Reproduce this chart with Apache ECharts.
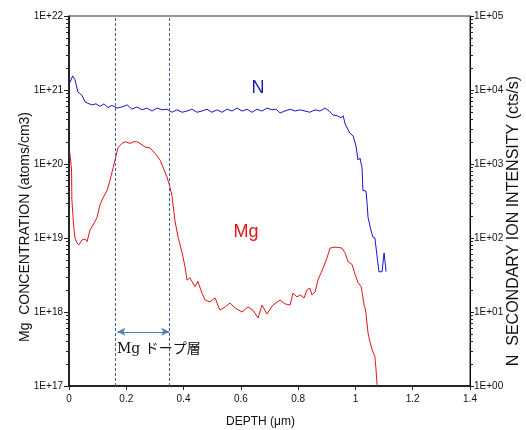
<!DOCTYPE html>
<html lang="ja">
<head>
    <meta charset="UTF-8">
    <title>SIMS depth profile</title>
    <script src="https://cdn.jsdelivr.net/npm/echarts@6/dist/echarts.min.js"></script>
    <style>
        html, body { margin: 0; padding: 0; background: #fff; }
        #chart { width: 526px; height: 430px; }
    </style>
</head>
<body>
<div id="chart"></div>
<script>
    // depth (um), Mg concentration (atoms/cm3)
    var mgProfile = [
        [0.003, 1.4e20], [0.009, 8.3e19], [0.010, 3.3e19], [0.016, 1.5e19], [0.021, 1.0e19],
        [0.028, 8.5e18], [0.035, 8.1e18], [0.045, 9.4e18], [0.056, 9.7e18], [0.063, 8.9e18],
        [0.073, 1.28e19], [0.084, 1.5e19], [0.098, 1.9e19], [0.108, 2.8e19], [0.119, 3.5e19],
        [0.133, 4.4e19], [0.143, 6.0e19], [0.154, 8.9e19], [0.171, 1.66e20], [0.185, 1.9e20],
        [0.196, 2.0e20], [0.213, 1.9e20], [0.227, 2.0e20], [0.237, 2.0e20], [0.248, 1.9e20],
        [0.265, 1.7e20], [0.283, 1.65e20], [0.300, 1.4e20], [0.318, 1.13e20], [0.328, 9.1e19],
        [0.342, 6.7e19], [0.353, 4.8e19], [0.360, 3.6e19], [0.370, 1.7e19], [0.381, 1.02e19],
        [0.395, 6.3e18], [0.405, 4.1e18], [0.412, 2.7e18], [0.422, 2.9e18], [0.429, 2.6e18],
        [0.440, 2.2e18], [0.450, 2.6e18], [0.464, 1.8e18], [0.475, 1.45e18], [0.492, 1.37e18],
        [0.510, 1.55e18], [0.527, 1.06e18], [0.545, 1.17e18], [0.562, 1.32e18], [0.580, 1.13e18],
        [0.604, 1.0e18], [0.625, 1.17e18], [0.642, 1.06e18], [0.660, 8.3e17], [0.674, 1.24e18],
        [0.691, 9.4e17], [0.712, 1.24e18], [0.737, 1.45e18], [0.754, 1.29e18], [0.772, 1.24e18],
        [0.782, 1.8e18], [0.796, 1.6e18], [0.807, 1.7e18], [0.821, 1.55e18], [0.831, 2.0e18],
        [0.841, 2.1e18], [0.848, 1.7e18], [0.859, 1.86e18], [0.869, 2.7e18], [0.887, 3.9e18],
        [0.901, 5.4e18], [0.911, 7.3e18], [0.925, 7.5e18], [0.936, 7.5e18], [0.953, 7.3e18],
        [0.964, 6.3e18], [0.974, 4.8e18], [0.988, 4.4e18], [0.999, 3.2e18], [1.009, 2.5e18],
        [1.020, 2.2e18], [1.025, 1.7e18], [1.030, 1.24e18], [1.034, 1.13e18], [1.037, 9.4e17],
        [1.044, 5.2e17], [1.051, 3.9e17], [1.058, 3.1e17], [1.068, 2.5e17], [1.072, 1.65e17],
        [1.075, 1.1e17], [1.077, 1.0e17]
    ];

    // depth (um), N secondary ion intensity (cts/s)
    var nProfile = [
        [0.002, 1.24e4], [0.013, 1.55e4], [0.021, 1.38e4], [0.031, 9.4e3], [0.045, 8.5e3],
        [0.056, 6.9e3], [0.066, 6.6e3], [0.080, 6.3e3], [0.094, 6.5e3], [0.108, 6.0e3],
        [0.122, 6.5e3], [0.136, 5.8e3], [0.150, 6.2e3], [0.168, 5.7e3], [0.185, 5.9e3],
        [0.203, 6.3e3], [0.220, 5.5e3], [0.237, 5.9e3], [0.255, 5.4e3], [0.272, 5.7e3],
        [0.290, 5.2e3], [0.307, 5.7e3], [0.325, 5.4e3], [0.342, 5.5e3], [0.360, 5.0e3],
        [0.377, 5.4e3], [0.395, 5.0e3], [0.412, 5.2e3], [0.429, 5.5e3], [0.447, 5.0e3],
        [0.464, 5.2e3], [0.482, 5.5e3], [0.499, 5.0e3], [0.517, 5.4e3], [0.534, 5.0e3],
        [0.552, 5.5e3], [0.569, 5.2e3], [0.587, 5.7e3], [0.604, 5.2e3], [0.622, 5.5e3],
        [0.639, 5.0e3], [0.656, 5.5e3], [0.674, 5.2e3], [0.691, 5.7e3], [0.709, 5.4e3],
        [0.723, 5.5e3], [0.737, 4.9e3], [0.754, 5.2e3], [0.772, 5.5e3], [0.789, 5.2e3],
        [0.807, 5.4e3], [0.824, 5.2e3], [0.841, 5.0e3], [0.859, 5.4e3], [0.876, 5.2e3],
        [0.894, 5.7e3], [0.908, 5.2e3], [0.922, 4.6e3], [0.936, 4.5e3], [0.950, 4.2e3],
        [0.957, 4.5e3], [0.964, 3.5e3], [0.974, 2.9e3], [0.981, 2.6e3], [0.992, 2.4e3],
        [1.002, 1.75e3], [1.009, 1.13e3], [1.016, 1.2e3], [1.023, 890], [1.026, 440],
        [1.037, 430], [1.040, 320], [1.044, 190], [1.054, 128], [1.061, 103],
        [1.068, 100], [1.075, 59], [1.082, 35], [1.093, 35], [1.100, 63], [1.107, 35]
    ];

    // Mg doped layer boundaries (um) and arrow height
    var dopeBounds = [0.159, 0.353];
    var dopeArrow = { from: 0.169, to: 0.350, level: 5.4e17 };

    // log minor ticks
    var minorSteps = [2, 3, 4, 5, 6, 7, 8, 9];
    var mgDecades = [1e17, 1e18, 1e19, 1e20, 1e21];
    var nDecades = [1, 10, 100, 1000, 10000];

    var minorLeft = [], minorRight = [];
    mgDecades.forEach(function (d) {
        minorSteps.forEach(function (k) { minorLeft.push([0, d * k]); });
    });
    nDecades.forEach(function (d) {
        minorSteps.forEach(function (k) { minorRight.push([1.4, d * k]); });
    });

    function tickSeries(data, yIndex, dir) {
        return {
            type: 'custom',
            yAxisIndex: yIndex,
            silent: true,
            clip: false,
            data: data,
            renderItem: function (params, api) {
                var p = api.coord([api.value(0), api.value(1)]);
                var y = Math.round(p[1]) + 0.5;
                return {
                    type: 'line',
                    shape: { x1: p[0], y1: y, x2: p[0] + dir * 3, y2: y },
                    style: { stroke: '#222', lineWidth: 1 }
                };
            }
        };
    }

    var font = 'Liberation Sans, Arial, sans-serif';
    var chart = echarts.init(document.getElementById('chart'));

    chart.setOption({
        animation: false,
        backgroundColor: '#fff',
        grid: {
            left: 69, right: 56, top: 16, bottom: 44,
            outerBoundsMode: 'none',
            containLabel: false,
            show: true, borderColor: '#333', borderWidth: 1
        },
        xAxis: {
            type: 'value',
            min: 0, max: 1.4, interval: 0.2,
            name: 'DEPTH (μm)',
            nameLocation: 'middle',
            nameGap: 30,
            nameMoveOverlap: false,
            nameTextStyle: { fontFamily: font, fontSize: 12, color: '#111', padding: [0, 18, 0, 0] },
            axisLine: { lineStyle: { color: '#000', width: 1.5 } },
            axisTick: { inside: false, length: 4, lineStyle: { color: '#222' } },
            axisLabel: { fontFamily: font, fontSize: 10, color: '#111', margin: 8 },
            splitLine: { show: false }
        },
        yAxis: [{
            type: 'log',
            logBase: 10,
            min: 1e17, max: 1e22,
            splitNumber: 5,
            position: 'left',
            name: 'Mg  CONCENTRATION (atoms/cm3)',
            nameLocation: 'middle',
            nameRotate: 90,
            nameGap: 37,
            nameMoveOverlap: false,
            nameTextStyle: { fontFamily: font, fontSize: 14, color: '#111', padding: [0, 52, 0, 0] },
            axisLine: { show: true, lineStyle: { color: '#000', width: 1.5 } },
            axisTick: { show: true, length: 5, lineStyle: { color: '#222' } },
            axisLabel: {
                fontFamily: font, fontSize: 10, color: '#111', margin: 6,
                formatter: function (v) { return '1E+' + Math.round(Math.log10(v)); }
            },
            splitLine: { show: false }
        }, {
            type: 'log',
            logBase: 10,
            min: 1, max: 1e5,
            splitNumber: 5,
            position: 'right',
            name: 'N  SECONDARY ION INTENSITY (cts/s)',
            nameLocation: 'middle',
            nameRotate: 90,
            nameGap: 36,
            nameMoveOverlap: false,
            nameTextStyle: { fontFamily: font, fontSize: 16, color: '#111', padding: [0, 40, 0, 0] },
            axisLine: { show: true, lineStyle: { color: '#000', width: 1 } },
            axisTick: { show: true, length: 4, lineStyle: { color: '#222' } },
            axisLabel: {
                fontFamily: font, fontSize: 10, color: '#111', margin: 4,
                formatter: function (v) {
                    var e = Math.round(Math.log10(v));
                    return '1E+' + (e < 10 ? '0' : '') + e;
                }
            },
            splitLine: { show: false }
        }],
        series: [{
            name: 'Mg',
            type: 'line',
            yAxisIndex: 0,
            data: mgProfile,
            showSymbol: false,
            lineStyle: { color: '#e01515', width: 1 },
            markLine: {
                silent: true,
                label: { show: false },
                data: [
                    [
                        { coord: [dopeArrow.from, dopeArrow.level], symbol: 'arrow' },
                        { coord: [dopeArrow.to, dopeArrow.level], symbol: 'arrow' }
                    ]
                ],
                symbolSize: [6, 8],
                lineStyle: { color: '#4f7fb5', width: 1.2, type: 'solid' }
            }
        }, {
            name: 'N',
            type: 'line',
            yAxisIndex: 1,
            data: nProfile,
            showSymbol: false,
            lineStyle: { color: '#1515d8', width: 1 },
            markLine: {
                silent: true,
                symbol: 'none',
                label: { show: false },
                data: dopeBounds.map(function (d) { return { xAxis: d }; }),
                lineStyle: { color: '#3d6296', width: 1, type: [3, 2] }
            }
        },
            tickSeries(minorLeft, 0, -1),
            tickSeries(minorRight, 1, 1)
        ],
        graphic: [{
            type: 'text', x: 258, y: 88,
            style: { text: 'N', fill: '#1a1ab8', font: '18px ' + font, align: 'center', verticalAlign: 'middle' }
        }, {
            type: 'text', x: 246, y: 232,
            style: { text: 'Mg', fill: '#e01515', font: '18px ' + font, align: 'center', verticalAlign: 'middle' }
        }, {
            type: 'text', x: 117, y: 349,
            style: {
                text: 'Mg ドープ層', fill: '#111',
                font: '14px "DejaVu Serif", "Liberation Serif", "Noto Sans CJK JP", serif',
                align: 'left', verticalAlign: 'middle'
            }
        }]
    });
</script>
</body>
</html>
